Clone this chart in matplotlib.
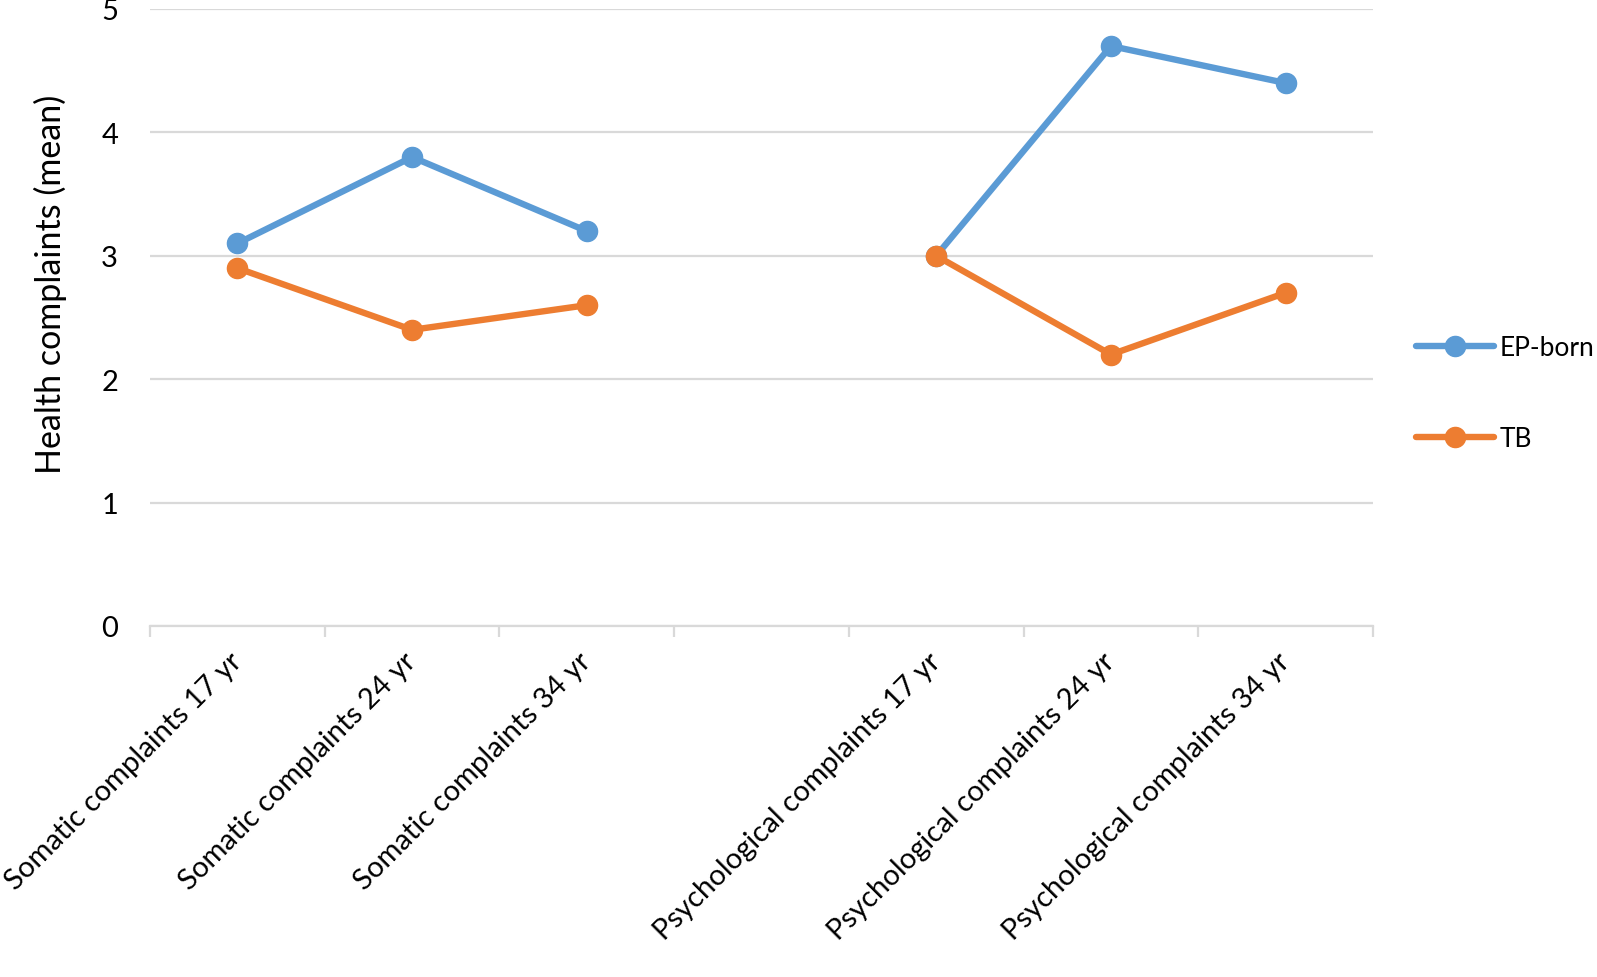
import numpy as np
import matplotlib
matplotlib.use("Agg")
import matplotlib.pyplot as plt

plt.rcParams["font.family"] = ["Lato", "DejaVu Sans"]

categories = [
    "Somatic complaints 17 yr",
    "Somatic complaints 24 yr",
    "Somatic complaints 34 yr",
    "",
    "Psychological complaints 17 yr",
    "Psychological complaints 24 yr",
    "Psychological complaints 34 yr",
]
ep_born = [3.1, 3.8, 3.2, np.nan, 3.0, 4.7, 4.4]
tb = [2.9, 2.4, 2.6, np.nan, 3.0, 2.2, 2.7]

BLUE = "#5B9BD5"
ORANGE = "#ED7D31"
GRID = "#D9D9D9"

fig = plt.figure(figsize=(15.97, 9.78), dpi=100)
ax = fig.add_axes([150 / 1597, 1 - 627 / 978, (1373 - 150) / 1597, (627 - 10) / 978])

x = np.arange(len(categories))
ax.plot(x, ep_born, color=BLUE, lw=4.6, marker="o", ms=14.5, label="EP-born",
        solid_capstyle="round", zorder=3)
ax.plot(x, tb, color=ORANGE, lw=4.6, marker="o", ms=14.5, label="TB",
        solid_capstyle="round", zorder=3)

ax.set_xlim(-0.5, len(categories) - 0.5)
ax.set_ylim(0, 5)
ax.set_yticks(range(6))
ax.yaxis.grid(True, color=GRID, lw=1.6)
ax.set_axisbelow(True)

for side in ["top", "right", "left"]:
    ax.spines[side].set_visible(False)
ax.spines["bottom"].set_color(GRID)
ax.spines["bottom"].set_linewidth(1.6)

ax.set_xticks(x)
ax.set_xticklabels(categories, rotation=45, ha="right", va="center",
                   rotation_mode="anchor", fontsize=21)
ax.set_xticks(np.arange(-0.5, len(categories)), minor=True)
ax.tick_params(axis="x", which="major", length=0, pad=22)
ax.tick_params(axis="x", which="minor", length=8, width=1.6, color=GRID)
ax.tick_params(axis="y", length=0, labelsize=21, pad=23)

ax.set_ylabel("Health complaints (mean)", fontsize=24.5)
# Excel puts the title a bit above the plot's middle
ax.yaxis.set_label_coords(-0.068, 0.556)

fig.legend(loc="center left", bbox_to_anchor=(1416 / 1597, 1 - 394 / 978),
           frameon=False, fontsize=19, handlelength=2.95, labelspacing=2.5,
           handletextpad=0.2, borderaxespad=0, borderpad=0)

fig.savefig("out.png", dpi=100)
